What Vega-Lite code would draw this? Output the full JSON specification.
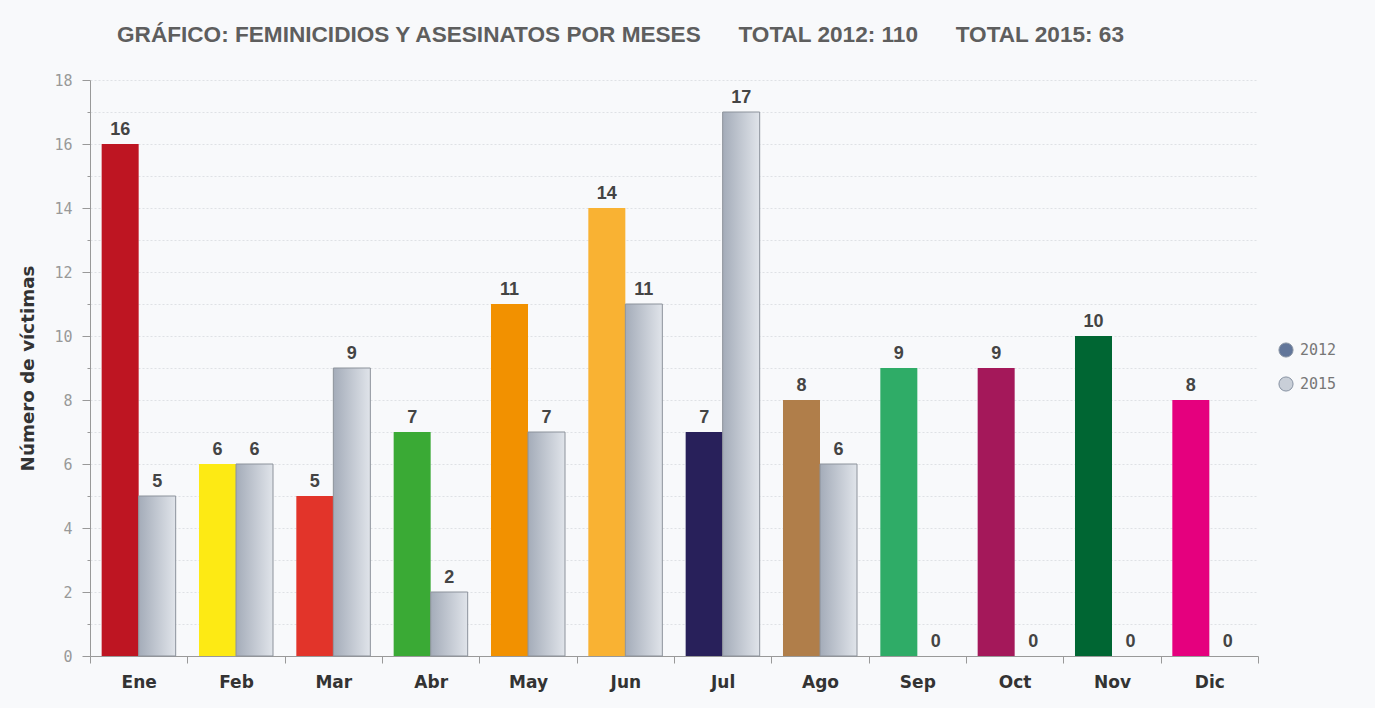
{
  "$schema": "https://vega.github.io/schema/vega-lite/v6.json",
  "width": 1168,
  "height": 576,
  "autosize": {"type": "none"},
  "padding": {"left": 90, "top": 80, "right": 117, "bottom": 52},
  "background": "#f8f9fb",
  "config": {"view": {"stroke": null}},
  "title": {
    "text": "GRÁFICO: FEMINICIDIOS Y ASESINATOS POR MESES\u00a0\u00a0\u00a0\u00a0\u00a0\u00a0TOTAL 2012: 110\u00a0\u00a0\u00a0\u00a0\u00a0\u00a0TOTAL 2015: 63",
    "anchor": "start",
    "frame": "group",
    "dx": 27,
    "font": "Liberation Sans",
    "fontSize": 22.6,
    "fontWeight": "bold",
    "color": "#5e5e5e",
    "offset": 26
  },
  "data": {
    "values": [
      {"month": "Ene", "year": "2012", "value": 16},
      {"month": "Ene", "year": "2015", "value": 5},
      {"month": "Feb", "year": "2012", "value": 6},
      {"month": "Feb", "year": "2015", "value": 6},
      {"month": "Mar", "year": "2012", "value": 5},
      {"month": "Mar", "year": "2015", "value": 9},
      {"month": "Abr", "year": "2012", "value": 7},
      {"month": "Abr", "year": "2015", "value": 2},
      {"month": "May", "year": "2012", "value": 11},
      {"month": "May", "year": "2015", "value": 7},
      {"month": "Jun", "year": "2012", "value": 14},
      {"month": "Jun", "year": "2015", "value": 11},
      {"month": "Jul", "year": "2012", "value": 7},
      {"month": "Jul", "year": "2015", "value": 17},
      {"month": "Ago", "year": "2012", "value": 8},
      {"month": "Ago", "year": "2015", "value": 6},
      {"month": "Sep", "year": "2012", "value": 9},
      {"month": "Sep", "year": "2015", "value": 0},
      {"month": "Oct", "year": "2012", "value": 9},
      {"month": "Oct", "year": "2015", "value": 0},
      {"month": "Nov", "year": "2012", "value": 10},
      {"month": "Nov", "year": "2015", "value": 0},
      {"month": "Dic", "year": "2012", "value": 8},
      {"month": "Dic", "year": "2015", "value": 0}
    ]
  },
  "encoding": {
    "x": {
      "field": "month",
      "type": "nominal",
      "sort": ["Ene", "Feb", "Mar", "Abr", "May", "Jun", "Jul", "Ago", "Sep", "Oct", "Nov", "Dic"],
      "scale": {"paddingInner": 0, "paddingOuter": 0},
      "axis": {
        "title": null,
        "labelAngle": 0,
        "labelFont": "DejaVu Sans",
        "labelFontSize": 17,
        "labelFontWeight": "bold",
        "labelColor": "#333333",
        "tickBand": "extent",
        "tickSize": 7,
        "tickColor": "#999999",
        "domainColor": "#999999",
        "labelPadding": 11,
        "grid": false
      }
    },
    "xOffset": {
      "field": "year",
      "type": "nominal",
      "scale": {"domain": ["2012", "2015"], "paddingInner": 0, "paddingOuter": 0.315}
    },
    "y": {
      "field": "value",
      "type": "quantitative",
      "scale": {"domain": [0, 18], "nice": false},
      "axis": {
        "values": [0, 0.5, 1, 1.5, 2, 2.5, 3, 3.5, 4, 4.5, 5, 5.5, 6, 6.5, 7, 7.5, 8, 8.5, 9, 9.5, 10, 10.5, 11, 11.5, 12, 12.5, 13, 13.5, 14, 14.5, 15, 15.5, 16, 16.5, 17, 17.5, 18],
        "format": "d",
        "labelExpr": "datum.value % 2 === 0 ? datum.label : ''",
        "labelOverlap": false,
        "title": "Número de víctimas",
        "titleFont": "DejaVu Sans",
        "titleFontSize": 18.3,
        "titleFontWeight": "bold",
        "titleColor": "#333333",
        "titlePadding": 16,
        "labelFont": "DejaVu Sans Mono",
        "labelFontSize": 15,
        "labelColor": "#999999",
        "domainColor": "#999999",
        "tickColor": "#999999",
        "tickSize": {"condition": {"test": "datum.value % 2 === 0", "value": 8}, "value": 3},
        "labelPadding": 10,
        "grid": true,
        "gridColor": "#dfe1e5",
        "gridDash": [2, 2],
        "gridWidth": 1
      }
    }
  },
  "layer": [
    {
      "transform": [{"filter": "datum.year === '2012'"}],
      "mark": {"type": "bar"},
      "encoding": {
        "fill": {
          "field": "month",
          "type": "nominal",
          "scale": {
            "domain": ["Ene", "Feb", "Mar", "Abr", "May", "Jun", "Jul", "Ago", "Sep", "Oct", "Nov", "Dic"],
            "range": ["#be1522", "#fdea14", "#e2342a", "#3aaa35", "#f29100", "#f9b233", "#28205a", "#b07e4a", "#2fac67", "#a4185a", "#006633", "#e5007e"]
          },
          "legend": null
        }
      }
    },
    {
      "transform": [{"filter": "datum.year === '2015' && datum.value > 0"}],
      "mark": {
        "type": "bar",
        "fill": {
          "gradient": "linear",
          "x1": 0, "x2": 1, "y1": 0, "y2": 0,
          "stops": [{"offset": 0, "color": "#a4acb9"}, {"offset": 1, "color": "#e0e4ea"}]
        },
        "stroke": "#8c929b",
        "strokeWidth": 1
      }
    },
    {
      "mark": {
        "type": "text",
        "font": "Liberation Sans",
        "fontWeight": "bold",
        "fontSize": 18,
        "color": "#444444",
        "baseline": "alphabetic",
        "dy": -9
      },
      "encoding": {"text": {"field": "value", "type": "quantitative"}}
    },
    {
      "mark": {"type": "point", "filled": true, "opacity": 0},
      "encoding": {
        "color": {
          "field": "year",
          "type": "nominal",
          "scale": {"domain": ["2012", "2015"], "range": ["#62769a", "#c9cfd8"]},
          "legend": {
            "title": null,
            "orient": "none",
            "legendX": 1188,
            "legendY": 262,
            "symbolType": "circle",
            "symbolSize": 200,
            "symbolOpacity": 1,
            "symbolStrokeColor": "#8893a3",
            "symbolStrokeWidth": 1,
            "labelFont": "DejaVu Sans Mono",
            "labelFontSize": 15,
            "labelColor": "#777777",
            "rowPadding": 14,
            "labelOffset": 6
          }
        }
      }
    }
  ]
}
